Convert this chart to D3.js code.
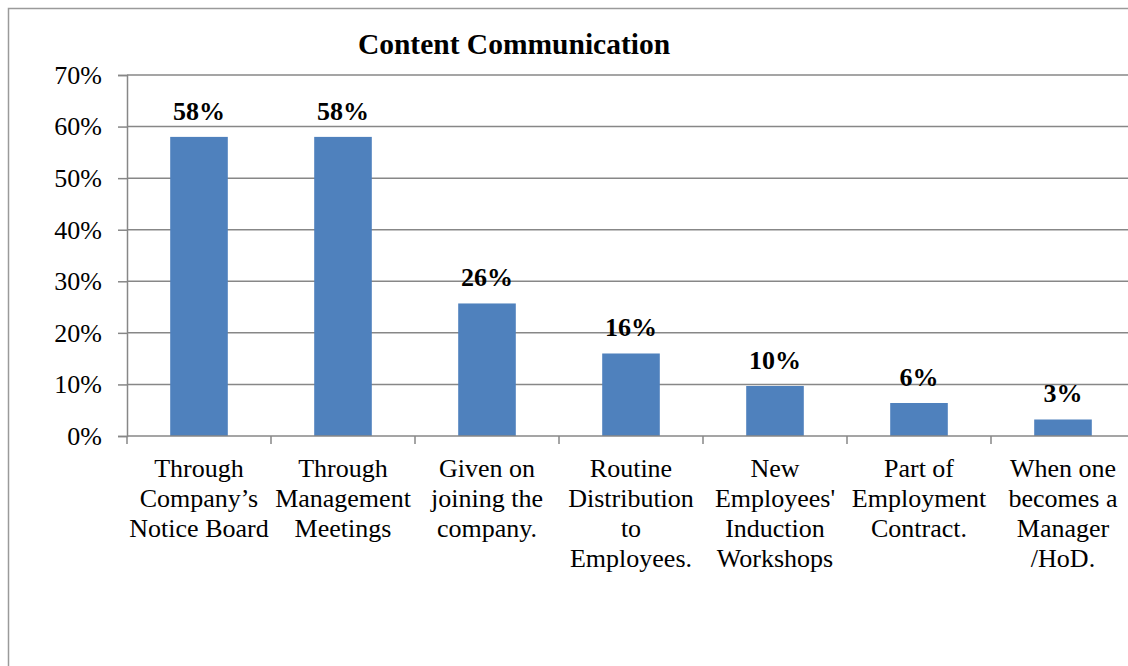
<!DOCTYPE html>
<html>
<head>
<meta charset="utf-8">
<script src="https://cdn.jsdelivr.net/npm/d3@7"></script>
<style>
  html, body { margin: 0; padding: 0; background: #fff; }
  svg { display: block; }
  text { font-family: "Liberation Serif", "Times New Roman", serif; fill: #000; }
</style>
</head>
<body>
<svg id="chart" width="1128" height="666"></svg>
<script>
const title = "Content Communication";
const categories = [
  "Through Company’s Notice Board",
  "Through Management Meetings",
  "Given on joining the company.",
  "Routine Distribution to Employees.",
  "New Employees' Induction Workshops",
  "Part of Employment Contract.",
  "When one becomes a Manager /HoD."
];
const categoryLines = [
  ["Through", "Company’s", "Notice Board"],
  ["Through", "Management", "Meetings"],
  ["Given on", "joining the", "company."],
  ["Routine", "Distribution", "to", "Employees."],
  ["New", "Employees'", "Induction", "Workshops"],
  ["Part of", "Employment", "Contract."],
  ["When one", "becomes a", "Manager", "/HoD."]
];
const values = [0.58, 0.58, 0.257, 0.16, 0.097, 0.064, 0.032];
const yTicks = [0, 0.1, 0.2, 0.3, 0.4, 0.5, 0.6, 0.7];

const svg = d3.select("#chart");
const mLeft = 127, mTop = 75, mBottom = 436, mRight = 127 + 7 * 144;

// outer border
svg.append("rect")
  .attr("x", 8.5).attr("y", 8.5)
  .attr("width", 1200).attr("height", 800)
  .attr("fill", "none").attr("stroke", "#9a9a9a").attr("stroke-width", 1.5);

const x = d3.scaleBand().domain(categories).range([mLeft, mRight])
  .paddingInner(0.6).paddingOuter(0.3);
const y = d3.scaleLinear().domain([0, 0.7]).range([mBottom, mTop]);

// gridlines
svg.append("g").selectAll("line").data(yTicks.filter(d => d > 0)).join("line")
  .attr("x1", mLeft).attr("x2", mRight)
  .attr("y1", d => y(d)).attr("y2", d => y(d))
  .attr("stroke", "#878787").attr("stroke-width", 1.5);

// y axis
const yAxis = svg.append("g").attr("transform", `translate(${mLeft},0)`)
  .call(d3.axisLeft(y).tickValues(yTicks).tickFormat(d3.format(".0%")).tickSize(9).tickPadding(16));
yAxis.select(".domain").attr("stroke", "#878787").attr("stroke-width", 1.5);
yAxis.selectAll(".tick line").attr("stroke", "#878787").attr("stroke-width", 1.5);
yAxis.selectAll(".tick text").attr("font-size", 26)
  .attr("font-family", "Liberation Serif, Times New Roman, serif").attr("fill", "#000");

// bars
svg.append("g").selectAll("rect").data(values).join("rect")
  .attr("x", (d, i) => x(categories[i]))
  .attr("width", x.bandwidth())
  .attr("y", d => y(d))
  .attr("height", d => y(0) - y(d))
  .attr("fill", "#4f81bd");

// x axis
svg.append("line").attr("x1", mLeft).attr("x2", mRight)
  .attr("y1", mBottom).attr("y2", mBottom)
  .attr("stroke", "#878787").attr("stroke-width", 1.5);
const boundaries = d3.range(categories.length + 1).map(i => mLeft + i * x.step());
svg.append("g").selectAll("line").data(boundaries).join("line")
  .attr("x1", d => d).attr("x2", d => d)
  .attr("y1", mBottom).attr("y2", mBottom + 8)
  .attr("stroke", "#878787").attr("stroke-width", 1.5);

// category labels
const cl = svg.append("g").selectAll("text").data(categories).join("text")
  .attr("text-anchor", "middle").attr("font-size", 26)
  .attr("x", d => x(d) + x.bandwidth() / 2)
  .attr("y", 477);
cl.each(function(d, i) {
  d3.select(this).selectAll("tspan").data(categoryLines[i]).join("tspan")
    .attr("x", x(d) + x.bandwidth() / 2)
    .attr("dy", (t, j) => j === 0 ? 0 : 30)
    .text(t => t);
});

// data labels
svg.append("g").selectAll("text").data(values).join("text")
  .attr("text-anchor", "middle").attr("font-size", 26).attr("font-weight", "bold")
  .attr("x", (d, i) => x(categories[i]) + x.bandwidth() / 2)
  .attr("y", d => y(d) - 17)
  .text(d => d3.format(".0%")(d));

// title
svg.append("text").attr("x", 514).attr("y", 54)
  .attr("text-anchor", "middle").attr("font-size", 29.5).attr("font-weight", "bold")
  .text(title);
</script>
</body>
</html>
